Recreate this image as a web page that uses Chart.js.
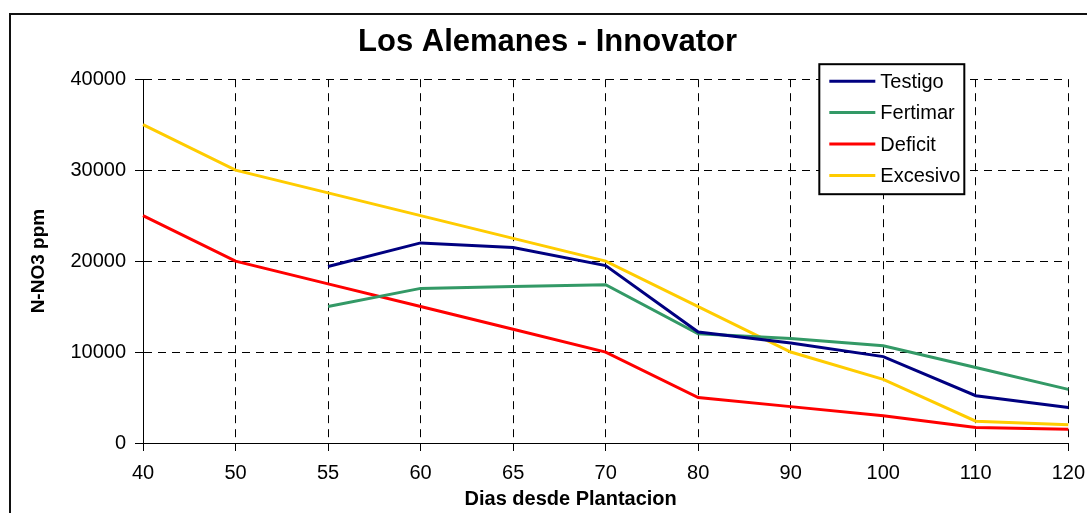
<!DOCTYPE html>
<html>
<head>
<meta charset="utf-8">
<title>Los Alemanes - Innovator</title>
<script src="https://cdn.jsdelivr.net/npm/chart.js@4"></script>
<style>
	html, body { margin: 0; padding: 0; background: #fff; overflow: hidden; }
	#frame { position: absolute; left: 9px; top: 13px; width: 1200px; height: 600px; border: 2px solid #111; }
	#wrap { position: absolute; left: 0; top: 0; width: 1095px; height: 513px; }
</style>
</head>
<body>
<div id="frame"></div>
<div id="wrap"><canvas id="lineChart"></canvas></div>
<script>
var dias = ['40', '50', '55', '60', '65', '70', '80', '90', '100', '110', '120'];

var testigo  = [null, null, 19400, 22000, 21500, 19500, 12200, 11000, 9500, 5200, 3900];
var fertimar = [null, null, 15000, 17000, 17200, 17400, 12000, 11500, 10700, 8300, 5900];
var deficit  = [25000, 20000, 17500, 15000, 12500, 10000, 5000, 4000, 3000, 1700, 1500];
var excesivo = [35000, 30000, 27500, 25000, 22500, 20000, 15000, 10000, 7000, 2400, 2000];

var yTicks = [0, 10000, 20000, 30000, 40000];

var lineChart;

// legend box drawn inside the plot, like the excel one
var boxLegend = {
	id: 'boxLegend',
	afterDatasetsDraw: function(chart) {
		var ctx = chart.ctx;
		var area = chart.chartArea;
		var left = area.right - 249;
		var top = area.top - 15;
		var w = 145, h = 130;
		ctx.save();
		ctx.fillStyle = '#fff';
		ctx.fillRect(left, top, w, h);
		ctx.strokeStyle = '#000';
		ctx.lineWidth = 2;
		ctx.strokeRect(left, top, w, h);
		ctx.font = '20px "Liberation Sans", Arial, sans-serif';
		ctx.textBaseline = 'middle';
		ctx.textAlign = 'left';
		chart.data.datasets.forEach(function(ds, i) {
			var y = top + 17 + i * 31.4;
			ctx.strokeStyle = ds.borderColor;
			ctx.lineWidth = 3;
			ctx.beginPath();
			ctx.moveTo(left + 10, y);
			ctx.lineTo(left + 56, y);
			ctx.stroke();
			ctx.fillStyle = '#000';
			ctx.fillText(ds.label, left + 61, y + 1);
		});
		ctx.restore();
	}
};

// x axis title sits a bit left of the plot centre in the original
var xTitle = {
	id: 'xTitle',
	afterDraw: function(chart) {
		var ctx = chart.ctx;
		var area = chart.chartArea;
		ctx.save();
		ctx.font = 'bold 20px "Liberation Sans", Arial, sans-serif';
		ctx.fillStyle = '#000';
		ctx.textAlign = 'center';
		ctx.textBaseline = 'alphabetic';
		ctx.fillText('Dias desde Plantacion', (area.left + area.right) / 2 - 35, 505);
		ctx.restore();
	}
};

function renderChart() {
	var ctx = document.getElementById('lineChart');

	var chartData = {
		labels: dias,
		datasets: [
			{ label: 'Testigo', data: testigo, borderColor: '#000080' },
			{ label: 'Fertimar', data: fertimar, borderColor: '#339966' },
			{ label: 'Deficit', data: deficit, borderColor: '#ff0000' },
			{ label: 'Excesivo', data: excesivo, borderColor: '#ffcc00' }
		].map(function(ds) {
			ds.backgroundColor = ds.borderColor;
			ds.borderWidth = 3;
			ds.pointRadius = 0;
			ds.tension = 0;
			ds.spanGaps = false;
			return ds;
		})
	};

	var tickFont = { family: '"Liberation Sans", Arial, sans-serif', size: 20 };

	var chartOptions = {
		responsive: false,
		animation: false,
		layout: { padding: { left: 0, right: 0, top: 0, bottom: 0 } },
		plugins: {
			title: {
				display: true,
				text: 'Los Alemanes - Innovator',
				color: '#000',
				font: { family: '"Liberation Sans", Arial, sans-serif', size: 31, weight: 'bold' },
				padding: { top: 24, bottom: 18 }
			},
			legend: { display: false },
			tooltip: { enabled: false }
		},
		scales: {
			x: {
				offset: false,
				grid: { color: '#000', lineWidth: 1, tickLength: 8, tickColor: '#000' },
				border: { color: '#000', width: 1, dash: [8, 6] },
				ticks: { color: '#000', font: tickFont, padding: 10, maxRotation: 0, autoSkip: false },
				afterFit: function(scale) { scale.height = 70; }
			},
			y: {
				min: 0,
				max: 40000,
				afterBuildTicks: function(scale) {
					scale.ticks = yTicks.map(function(v) { return { value: v }; });
				},
				grid: { color: '#000', lineWidth: 1, tickLength: 8, tickColor: '#000' },
				border: { color: '#000', width: 1, dash: [8, 6] },
				ticks: {
					color: '#000',
					font: tickFont,
					padding: 9,
					callback: function(v) { return String(v); }
				},
				title: {
					display: true,
					text: 'N-NO3 ppm',
					color: '#000',
					font: { family: '"Liberation Sans", Arial, sans-serif', size: 19, weight: 'bold' },
					padding: { top: 27, bottom: 0 }
				},
				afterFit: function(scale) { scale.width = 143; }
			}
		}
	};

	lineChart = new Chart(ctx, {
		type: 'line',
		data: chartData,
		options: chartOptions,
		plugins: [boxLegend, xTitle]
	});
}

var cv = document.getElementById('lineChart');
cv.width = 1095;
cv.height = 513;
renderChart();
</script>
</body>
</html>
